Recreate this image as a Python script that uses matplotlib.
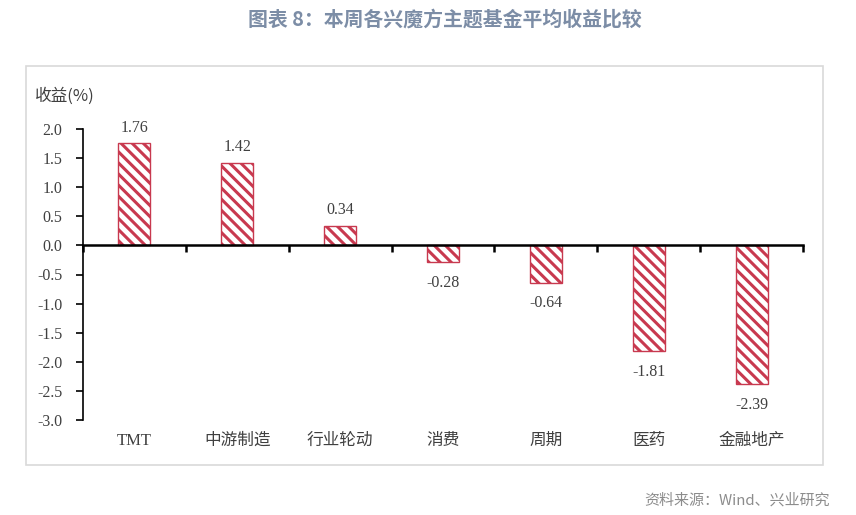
import matplotlib.pyplot as plt
import numpy as np
from matplotlib.patches import Rectangle

# 数据
categories = ["TMT", "中游制造", "行业轮动", "消费", "周期", "医药", "金融地产"]
returns = [1.76, 1.42, 0.34, -0.28, -0.64, -1.81, -2.39]
y_ticks = [2.0, 1.5, 1.0, 0.5, 0.0, -0.5, -1.0, -1.5, -2.0, -2.5, -3.0]

cjk = ['Noto Sans CJK SC', 'DejaVu Sans']
num_font = ['Liberation Serif', 'Noto Sans CJK SC']
red = '#C8394F'
grey_txt = '#404040'

plt.rcParams['hatch.linewidth'] = 2.2
plt.rcParams['hatch.color'] = red

fig = plt.figure(figsize=(8.56, 5.15), dpi=100)
W, H = 856, 515

# 外框
fig.patches.append(Rectangle((26 / W, 1 - 465 / H), (823 - 26) / W, (465 - 66) / H,
                             transform=fig.transFigure, fill=False,
                             edgecolor='#D9D9D9', linewidth=1.2))

fig.text(445 / W, 1 - 19 / H, "图表 8：本周各兴魔方主题基金平均收益比较", ha='center', va='center',
         fontsize=14.3, fontweight='bold', color='#7C8DA6', family=cjk)
fig.text(830 / W, 1 - 500 / H, "资料来源：Wind、兴业研究", ha='right', va='center',
         fontsize=10.8, color='#8C8C8C', family=cjk)

ax = fig.add_axes([83 / W, 1 - 420 / H, (803 - 83) / W, (420 - 129) / H])
x = np.arange(len(categories))
ax.bar(x, returns, width=0.31, color='white', edgecolor=red, linewidth=1.0, hatch='\\\\\\')

ax.set_xlim(-0.5, len(categories) - 0.5)
ax.set_ylim(-3.0, 2.0)
ax.set_yticks(y_ticks)
ax.set_yticklabels([f"{v:.1f}" for v in y_ticks], family=num_font, fontsize=11.5, color=grey_txt)
ax.tick_params(axis='y', direction='out', length=5, width=1.2, color='black', pad=10)

# x轴在0处, 刻度在分类边界
ax.spines['bottom'].set_position(('data', 0))
ax.spines['bottom'].set_linewidth(1.8)
ax.spines['left'].set_linewidth(1.2)
ax.spines['top'].set_visible(False)
ax.spines['right'].set_visible(False)
ax.set_xticks(np.arange(len(categories) + 1) - 0.5)
ax.set_xticklabels([])
ax.tick_params(axis='x', direction='out', length=5, width=1.8, color='black')

for i, c in enumerate(categories):
    ax.annotate(c, (i, -3.0), xytext=(0, -15), textcoords='offset points', ha='center', va='center',
                family=['Liberation Serif', 'Noto Sans CJK SC'], fontsize=12, color=grey_txt)

for i, v in enumerate(returns):
    off = 11 if v >= 0 else -15
    ax.annotate(f"{v:.2f}", (i, v), xytext=(0, off), textcoords='offset points', ha='center',
                va='center', family=num_font, fontsize=11.5, color=grey_txt)

fig.text(35 / W, 1 - 96 / H, "收益(%)", ha='left', va='center', fontsize=12,
         color=grey_txt, family=cjk)

fig.savefig('out.png', dpi=100)
